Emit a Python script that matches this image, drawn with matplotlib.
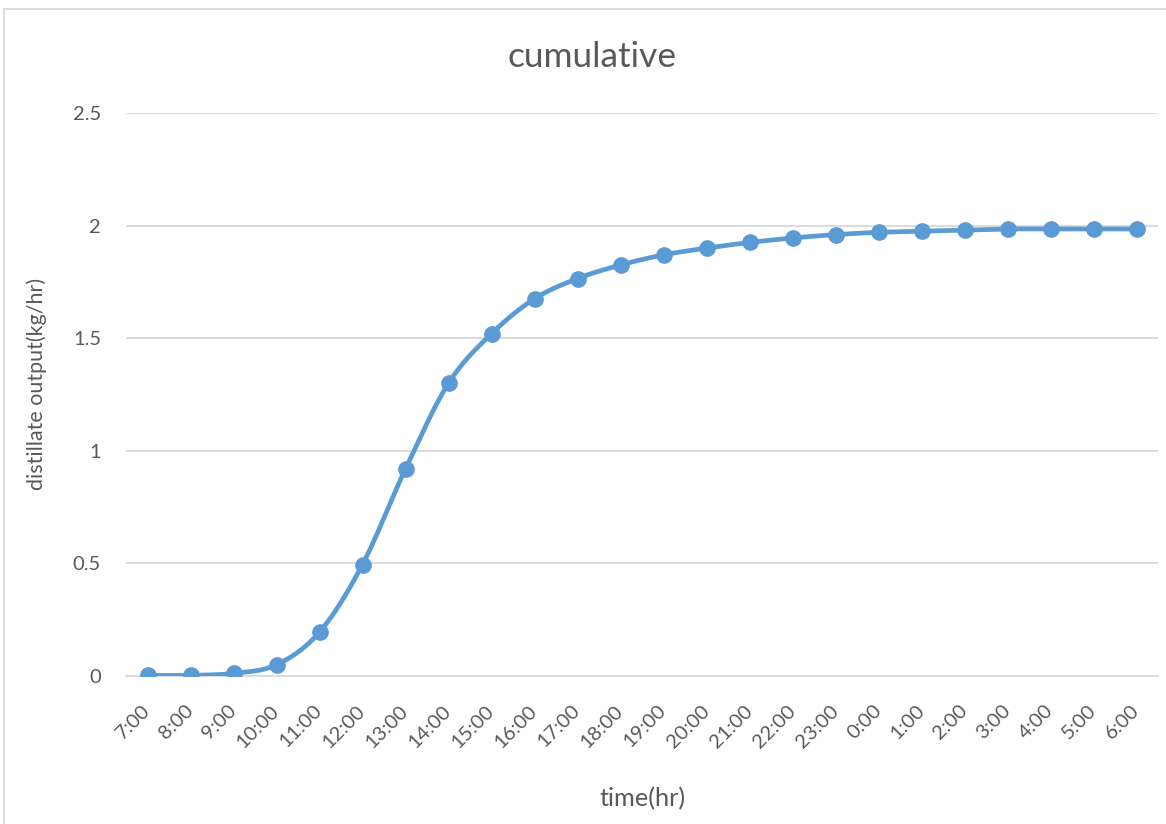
import numpy as np
import matplotlib
matplotlib.use("Agg")
import matplotlib.pyplot as plt
from matplotlib.lines import Line2D

hours = ["7:00", "8:00", "9:00", "10:00", "11:00", "12:00", "13:00", "14:00", "15:00",
         "16:00", "17:00", "18:00", "19:00", "20:00", "21:00", "22:00", "23:00", "0:00",
         "1:00", "2:00", "3:00", "4:00", "5:00", "6:00"]
output = [0.003, 0.003, 0.012, 0.05, 0.195, 0.495, 0.92, 1.30, 1.52, 1.675, 1.765, 1.825,
          1.87, 1.90, 1.925, 1.945, 1.96, 1.97, 1.975, 1.98, 1.985, 1.985, 1.985, 1.985]

plt.rcParams['font.family'] = ['Lato', 'DejaVu Sans']
color = "#5B9BD5"
gray = "#595959"

fig = plt.figure(figsize=(11.66, 8.24), dpi=100)
W, H = 1166, 824
ax = fig.add_axes([126 / W, 1 - 676 / H, (1158 - 126) / W, (676 - 113) / H])

x = np.arange(len(hours), dtype=float)
y = np.array(output, dtype=float)

# Smoothed line (Catmull-Rom Bezier through the data points, as Excel does)
def smooth(xs, ys, n=30):
    px, py = [], []
    m = len(xs)
    for i in range(m - 1):
        x0, y0 = (xs[i - 1], ys[i - 1]) if i > 0 else (xs[i], ys[i])
        x1, y1 = xs[i], ys[i]
        x2, y2 = xs[i + 1], ys[i + 1]
        x3, y3 = (xs[i + 2], ys[i + 2]) if i + 2 < m else (xs[i + 1], ys[i + 1])
        c1x, c1y = x1 + (x2 - x0) / 6, y1 + (y2 - y0) / 6
        c2x, c2y = x2 - (x3 - x1) / 6, y2 - (y3 - y1) / 6
        t = np.linspace(0, 1, n)
        bx = (1 - t) ** 3 * x1 + 3 * (1 - t) ** 2 * t * c1x + 3 * (1 - t) * t ** 2 * c2x + t ** 3 * x2
        by = (1 - t) ** 3 * y1 + 3 * (1 - t) ** 2 * t * c1y + 3 * (1 - t) * t ** 2 * c2y + t ** 3 * y2
        px.extend(bx)
        py.extend(by)
    return np.array(px), np.array(py)

sx, sy = smooth(x, y)
ax.plot(sx, sy, color=color, lw=3.4, solid_capstyle='round', zorder=3)
ax.plot(x, y, 'o', color=color, markersize=11, zorder=4)

ax.set_xlim(-0.5, len(hours) - 0.5)
ax.set_ylim(0, 2.5)
ax.set_yticks([0, 0.5, 1, 1.5, 2, 2.5])
ax.set_yticklabels(["0", "0.5", "1", "1.5", "2", "2.5"])
ax.set_xticks(x)
ax.set_xticklabels(hours, rotation=45, ha='right', va='center', rotation_mode='anchor')
ax.tick_params(axis='both', length=0, colors=gray, labelsize=14.5)
ax.tick_params(axis='y', pad=18)
ax.tick_params(axis='x', pad=23)
ax.grid(axis='y', color='#D9D9D9', lw=1.3)
ax.set_axisbelow(True)
for s in ['top', 'right', 'left']:
    ax.spines[s].set_visible(False)
ax.spines['bottom'].set_color('#D9D9D9')
ax.spines['bottom'].set_linewidth(1.3)

renderer = fig.canvas.get_renderer()

def fitted_text(xc, yc, s, target, rotation=0, use_height=False):
    t = fig.text(xc / W, 1 - yc / H, s, ha='center', va='center', fontsize=10,
                 color=gray, rotation=rotation)
    bb = t.get_window_extent(renderer)
    cur = bb.height if use_height else bb.width
    t.set_fontsize(10 * target / cur)
    return t

fitted_text(592, 57, "cumulative", 169)
fitted_text(643, 799, "time(hr)", 87)
fitted_text(37, 384, "distillate output(kg/hr)", 212, rotation=90, use_height=True)

# chart area border
fig.add_artist(Line2D([4 / W, 4 / W], [0, 1 - 9 / H], transform=fig.transFigure, color='#D9D9D9', lw=1.3))
fig.add_artist(Line2D([4 / W, 1], [1 - 9 / H, 1 - 9 / H], transform=fig.transFigure, color='#D9D9D9', lw=1.3))

fig.savefig("out.png", dpi=100)
